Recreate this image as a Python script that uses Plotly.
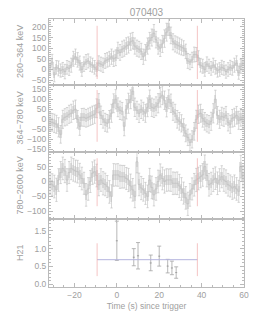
import plotly.graph_objects as go

# ---------------- data ----------------
t_bins = [-31.5 + i for i in range(92)]  # 1-s bin centres (s since trigger)

rate_260_364 = [
    10, 35, -25, 10, 5, -5, 0, -10, 10, 5,
    20, 50, 60, 45, 30, 0, 25, 35, 40, 25,
    20, 10, 0, 30, 25, 20, 40, 45, 50, 60,
    50, 55, 90, 80, 95, 100, 110, 115, 130, 135,
    110, 100, 95, 85, 60, 80, 110, 135, 150, 170,
    140, 110, 100, 120, 145, 175, 200, 160, 130, 120,
    115, 110, 105, 100, 85, 40, 35, 45, 70, 70,
    55, 20, 15, 0, 25, 15, 5, 20, 10, -5,
    0, 10, 5, -10, 0, 10, 5, 20, 30, -15,
    15, 30]
err_260_364 = [
    34, 36, 33, 32, 35, 31, 33, 34, 32, 33,
    33, 35, 36, 34, 33, 32, 34, 35, 33, 34,
    33, 32, 31, 34, 33, 34, 35, 34, 35, 36,
    36, 37, 38, 37, 38, 38, 39, 38, 40, 39,
    38, 38, 37, 38, 36, 37, 38, 39, 40, 41,
    39, 38, 39, 40, 41, 42, 40, 39, 38, 38,
    38, 38, 37, 35, 34, 35, 36, 36, 35, 33,
    33, 32, 33, 32, 34, 33, 32, 33, 32, 31,
    32, 33, 32, 31, 32, 33, 32, 33, 34, 31,
    33, 34]

rate_364_780 = [
    -12, -15, -20, -25, -40, -75, 0, 10, 15, 25,
    30, 45, 50, 0, -35, 10, 10, 5, 10, 15,
    20, 25, 55, 80, 20, 0, -15, -20, 0, 30,
    80, 100, 60, 45, 40, -35, 50, 80, 100, 140,
    60, 45, 30, 50, 40, 30, 60, 100, 60, 55,
    65, 80, 110, 120, 95, 60, 100, 80, 40, 30,
    0, -10, -20, -40, -70, -90, -115, -100, -60, 0,
    25, 30, 5, -10, -20, -25, -10, 30, 100, 20,
    0, 15, 10, 20, -15, -25, 5, 10, 20, -5,
    10, 0]
err_364_780 = [
    45, 44, 46, 45, 48, 44, 45, 43, 44, 45,
    45, 46, 46, 44, 45, 44, 45, 44, 45, 45,
    46, 45, 47, 48, 46, 44, 45, 44, 44, 45,
    47, 48, 47, 46, 44, 47, 48, 50, 47, 46,
    46, 45, 46, 46, 45, 45, 47, 46, 46, 46,
    47, 48, 49, 47, 46, 48, 47, 46, 45, 45,
    44, 44, 43, 43, 42, 41, 42, 43, 44, 45,
    46, 45, 44, 44, 43, 44, 45, 48, 45, 44,
    45, 45, 45, 44, 43, 45, 44, 45, 44, 45,
    44, 45]

rate_780_2600 = [
    -5, -11, -17, -28, 5, 30, 44, 35, 5, 30,
    44, 39, 35, 33, 22, 10, -6, -45, -25, 0,
    28, 33, 20, -11, 5, -6, -10, -17, -35, -50,
    22, 22, 22, 16, 16, 16, 10, 5, -15, -28,
    -50, 66, -10, -22, -28, -40, -50, 5, -20, -45,
    -25, 0, 22, 10, 0, 5, 5, 5, -6, -6,
    -6, -15, -25, -39, -55, -75, -45, -25, -11, 5,
    10, 16, 22, 50, 20, -11, -6, 5, 11, -6,
    5, 16, 5, 0, -11, -15, -22, -17, -25, -33,
    50, 16]
err_780_2600 = [
    38, 37, 38, 39, 38, 37, 38, 39, 38, 37,
    38, 38, 37, 38, 39, 38, 37, 38, 38, 37,
    38, 39, 38, 37, 38, 39, 38, 37, 38, 39,
    38, 37, 38, 39, 38, 38, 37, 39, 40, 38,
    38, 37, 38, 39, 38, 37, 38, 39, 38, 37,
    38, 38, 37, 38, 39, 38, 37, 38, 38, 37,
    38, 39, 38, 37, 38, 39, 38, 37, 38, 39,
    38, 37, 38, 39, 38, 38, 37, 39, 38, 38,
    38, 37, 38, 39, 38, 37, 38, 39, 38, 37,
    38, 38]

h21_t = [0, 8, 10, 16, 20, 24, 26, 28]
h21_v = [1.22, 0.76, 0.80, 0.60, 0.79, 0.51, 0.46, 0.33]
h21_err = [0.55, 0.24, 0.37, 0.22, 0.28, 0.19, 0.19, 0.16]
h21_terr = [0.5, 0.5, 0.5, 0.5, 0.5, 0.5, 0.5, 0.5]

t_start, t_end = -9.3, 38.0
h21_mean, h21_mean_err = 0.69, 0.46
red_lo = [-45, -112, -83]
red_hi = [205, 146, 78]

panel_labels = ["260\u2212364 keV", "364\u2212780 keV", "780\u22122600 keV", "H21"]
title_text = "070403"

# ---------------- style ----------------
GREY = "#bcbcbc"
FILL = "#e3e3e3"
AX = "#bababa"
TXT = "#a0a0a0"
FONT = "Liberation Sans"
RED = "rgba(240,165,165,0.65)"
BLUE = "#b4b4de"

W, H = 261, 315   # page body has an 8px margin
ML, MR, MT, MB = 41, 25, 11, 36
PW = W - ML - MR

domains = [[0.7537, 1.0], [0.5037, 0.7537], [0.2537, 0.5037], [0.0, 0.2537]]
yranges = [[-73, 237], [-163, 171], [-126, 99], [-0.075, 1.83]]
ydticks = [50, 50, 50, 0.5]
yminor = [10, 10, 10, 0.1]

fig = go.Figure()
series = [(rate_260_364, err_260_364), (rate_364_780, err_364_780), (rate_780_2600, err_780_2600)]
for k, (vals, errs) in enumerate(series):
    xa = "x" if k == 0 else f"x{k+1}"
    ya = "y" if k == 0 else f"y{k+1}"
    box_h = [0.9 * e for e in errs]
    box_b = [v - 0.45 * e for v, e in zip(vals, errs)]
    fig.add_trace(go.Bar(x=t_bins, y=box_h, base=box_b, width=0.9,
                         marker=dict(color=FILL, line=dict(width=0)),
                         xaxis=xa, yaxis=ya, showlegend=False, hoverinfo="skip"))
    fig.add_trace(go.Scatter(x=t_bins, y=vals, mode="lines",
                             line=dict(shape="hvh", color=GREY, width=0.6),
                             error_y=dict(type="data", array=errs, color=GREY,
                                          thickness=0.6, width=1.2),
                             xaxis=xa, yaxis=ya, showlegend=False))
    for tt in (t_start, t_end):
        fig.add_shape(type="line", xref=xa, yref=ya, x0=tt, x1=tt,
                      y0=red_lo[k], y1=red_hi[k], line=dict(color=RED, width=1))

# H21 panel
fig.add_shape(type="line", xref="x4", yref="y4", x0=t_start, x1=t_end,
              y0=h21_mean, y1=h21_mean, line=dict(color=BLUE, width=1))
for tt in (t_start, t_end):
    fig.add_shape(type="line", xref="x4", yref="y4", x0=tt, x1=tt,
                  y0=h21_mean - h21_mean_err, y1=h21_mean + h21_mean_err,
                  line=dict(color=RED, width=1))
fig.add_trace(go.Scatter(x=h21_t, y=h21_v, mode="markers",
                         marker=dict(size=1, color="#999999"),
                         error_y=dict(type="data", array=h21_err, color="#a4a4a4",
                                      thickness=0.8, width=2),
                         error_x=dict(type="data", array=h21_terr, color="#a4a4a4",
                                      thickness=0.8, width=0),
                         xaxis="x4", yaxis="y4", showlegend=False))

layout = dict(
    width=W, height=H,
    margin=dict(l=ML, r=MR, t=MT, b=MB, autoexpand=False),
    paper_bgcolor="white", plot_bgcolor="white",
    barmode="overlay", bargap=0,
    font=dict(family=FONT, size=8.5, color=TXT),
    title=dict(text=title_text, x=0.5, xref="paper", xanchor="center",
               y=1 - 4 / H, yref="container", yanchor="middle", automargin=False,
               font=dict(size=10, color=TXT, family=FONT)),
)
for k in range(4):
    xn = "xaxis" if k == 0 else f"xaxis{k+1}"
    yn = "yaxis" if k == 0 else f"yaxis{k+1}"
    ya = "y" if k == 0 else f"y{k+1}"
    xa = "x" if k == 0 else f"x{k+1}"
    layout[xn] = dict(domain=[0, 1], anchor=ya, range=[-32, 60], dtick=20, tick0=0,
                      showgrid=False, zeroline=False, showline=True, linecolor=AX,
                      linewidth=1, mirror="ticks", ticks="inside", ticklen=4,
                      tickcolor=AX, showticklabels=(k == 3), automargin=False,
                      minor=dict(dtick=5, ticks="inside", ticklen=2, tickcolor=AX),
                      tickfont=dict(size=8.5, color=TXT))
    if k > 0:
        layout[xn]["matches"] = "x"
    layout[yn] = dict(domain=domains[k], anchor=xa, range=yranges[k], dtick=ydticks[k],
                      tick0=0, showgrid=False, zeroline=False, showline=True,
                      linecolor=AX, linewidth=1, mirror="ticks", ticks="inside",
                      ticklen=4, tickcolor=AX, automargin=False,
                      minor=dict(dtick=yminor[k], ticks="inside", ticklen=2, tickcolor=AX),
                      tickfont=dict(size=8.5, color=TXT))
layout["yaxis4"]["tickformat"] = ".1f"
layout["xaxis4"]["title"] = dict(text="Time (s) since trigger",
                                 font=dict(size=8.5, color=TXT), standoff=3)

ann = []
for k in range(4):
    ann.append(dict(text=panel_labels[k], xref="paper", yref="paper",
                    x=-29 / PW, y=(domains[k][0] + domains[k][1]) / 2,
                    xanchor="center", yanchor="middle", textangle=-90,
                    showarrow=False, font=dict(size=9, color=TXT, family=FONT)))
layout["annotations"] = ann

fig.update_layout(**layout)
fig.write_html("out.html")
